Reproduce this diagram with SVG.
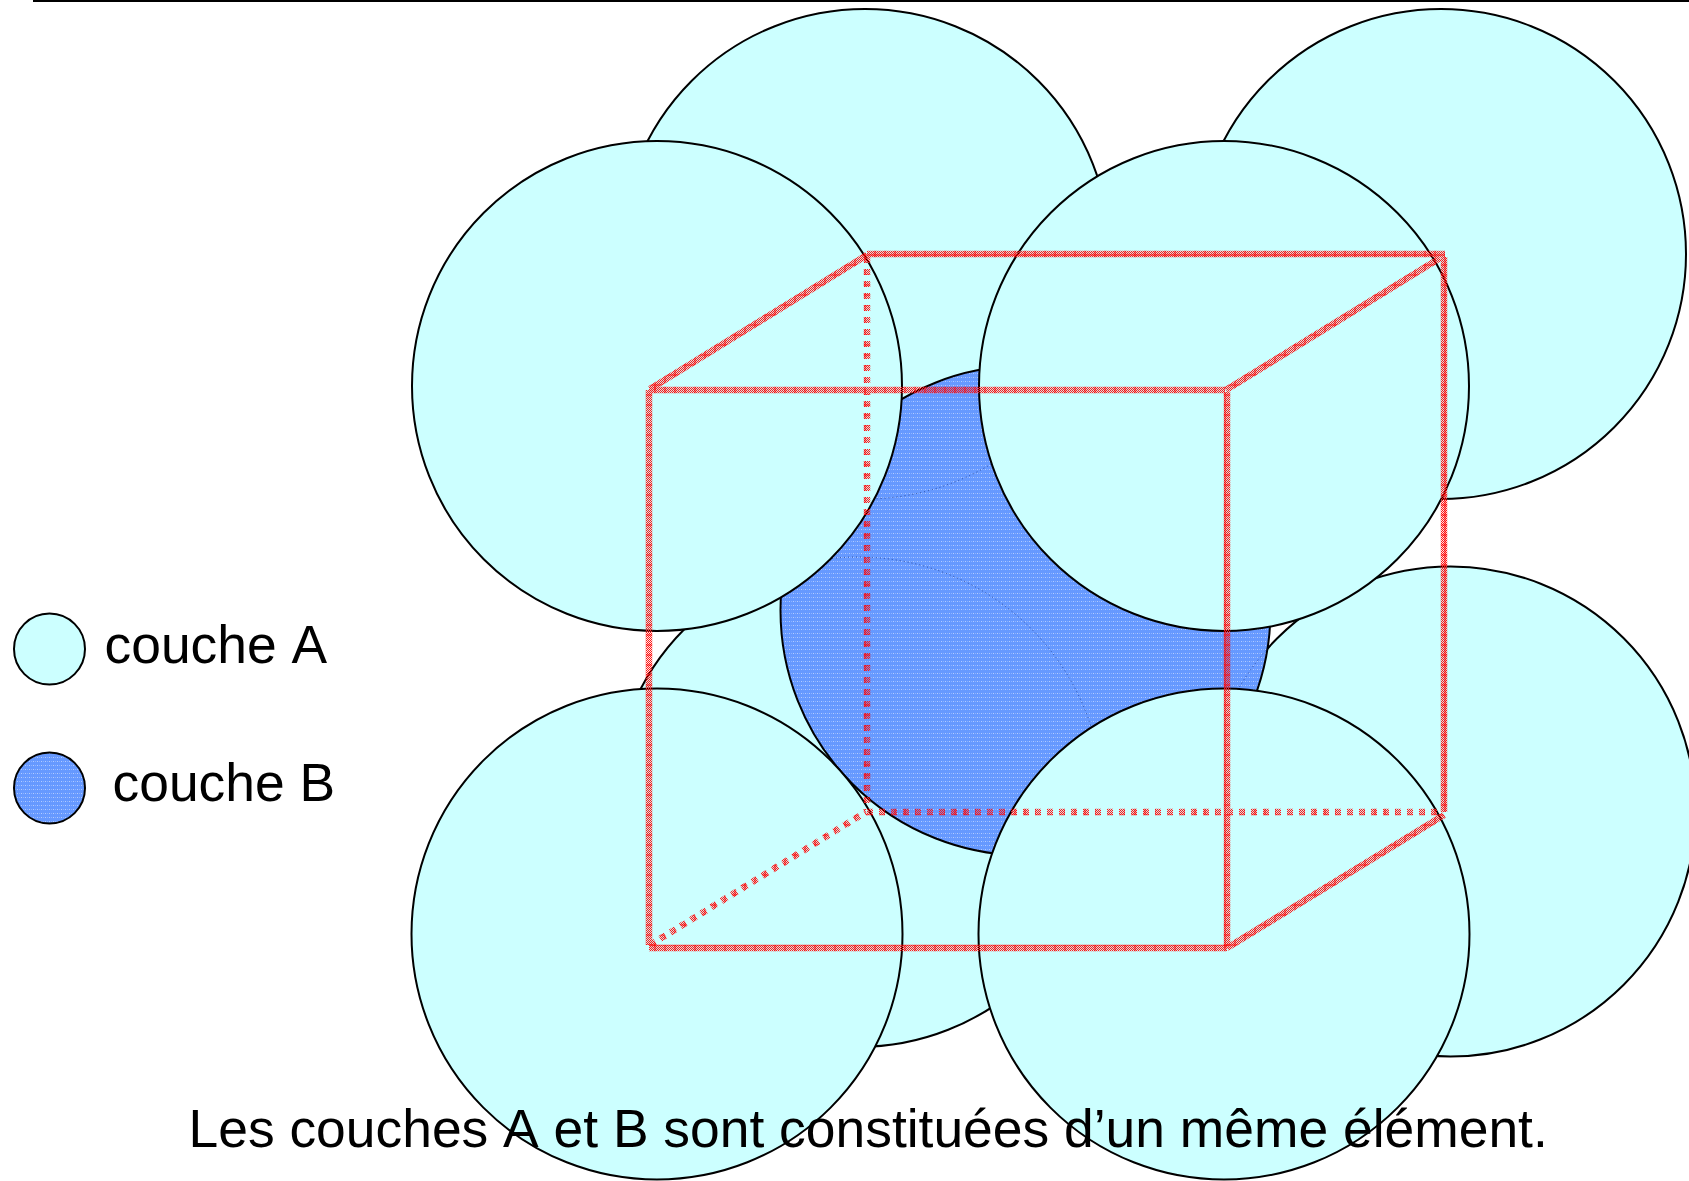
<svg xmlns="http://www.w3.org/2000/svg" width="1689" height="1181" viewBox="0 0 1689 1181">
  <style>
    .a { fill: #ccffff; stroke: #000; stroke-width: 2; }
    .b { fill: url(#stipple); stroke: #000; stroke-width: 2; }
    .ghost { fill: none; stroke: #1a3a8c; stroke-width: 1; stroke-dasharray: 1 3; opacity: .8; }
    .e { fill: none; stroke: url(#red); stroke-width: 6.5; stroke-linecap: butt; }
    .d { stroke-dasharray: 6 6; }
    text { font-family: "Liberation Sans", Arial, sans-serif; font-size: 53.4px; font-kerning: none; fill: #000; }
  </style>
  <defs>
    <pattern id="stipple" patternUnits="userSpaceOnUse" width="4" height="4">
      <rect width="4" height="4" fill="#6699ff"/>
      <rect x="1" y="1" width="1" height="1" fill="#b4ccff"/>
      <rect x="3" y="1" width="1" height="1" fill="#8fb4ff"/>
    </pattern>
    <pattern id="red" patternUnits="userSpaceOnUse" width="10" height="10">
      <rect width="10" height="10" fill="#ff0000" opacity=".1"/>
      <path d="M0 0h1v1H0zM2 0h1v1H2zM4 0h1v1H4zM6 0h1v1H6zM8 0h1v1H8zM1 1h1v1H1zM3 1h1v1H3zM5 1h1v1H5zM7 1h1v1H7zM9 1h1v1H9zM0 2h1v1H0zM2 2h1v1H2zM4 2h1v1H4zM6 2h1v1H6zM8 2h1v1H8zM1 3h1v1H1zM3 3h1v1H3zM5 3h1v1H5zM7 3h1v1H7zM9 3h1v1H9zM0 4h1v1H0zM2 4h1v1H2zM4 4h1v1H4zM6 4h1v1H6zM8 4h1v1H8zM1 5h1v1H1zM3 5h1v1H3zM5 5h1v1H5zM7 5h1v1H7zM9 5h1v1H9zM0 6h1v1H0zM2 6h1v1H2zM4 6h1v1H4zM6 6h1v1H6zM8 6h1v1H8zM1 7h1v1H1zM3 7h1v1H3zM5 7h1v1H5zM7 7h1v1H7zM9 7h1v1H9zM0 8h1v1H0zM2 8h1v1H2zM4 8h1v1H4zM6 8h1v1H6zM8 8h1v1H8zM1 9h1v1H1zM3 9h1v1H3zM5 9h1v1H5zM7 9h1v1H7zM9 9h1v1H9z" fill="#ff1a1a"/>
      <path d="M5 0v10M0 5h10" stroke="#ff0000" stroke-width="1" fill="none" opacity=".8"/>
    </pattern>
    <clipPath id="inB"><circle cx="1025.5" cy="610.5" r="245"/></clipPath>
  </defs>

  <path id="frame" d="M34 -10V1H1700" fill="none" stroke="#000" stroke-width="2"/>

  <g id="sphere-back-top-left"><circle class="a" cx="865" cy="254" r="245"/></g>
  <g id="sphere-back-top-right"><circle class="a" cx="1441" cy="254" r="245"/></g>
  <g id="sphere-back-bottom-left"><circle class="a" cx="858" cy="802" r="245"/></g>
  <g id="sphere-back-bottom-right"><circle class="a" cx="1450.5" cy="811.5" r="245"/></g>

  <g id="sphere-B"><circle class="b" cx="1025.5" cy="610.5" r="245"/></g>
  <g id="sphere-B-ghosts" clip-path="url(#inB)">
    <circle class="ghost" cx="865" cy="254" r="245"/>
    <circle class="ghost" cx="858" cy="802" r="245"/>
    <circle class="ghost" cx="1450.5" cy="811.5" r="245"/>
  </g>

  <g id="sphere-front-top-left"><circle class="a" cx="657" cy="386" r="245"/></g>
  <g id="sphere-front-top-right"><circle class="a" cx="1224" cy="386" r="245"/></g>
  <g id="sphere-front-bottom-left"><circle class="a" cx="657" cy="934" r="245.5"/></g>
  <g id="sphere-front-bottom-right"><circle class="a" cx="1224" cy="934" r="245.5"/></g>

  <g id="connectors">
    <path class="e d" d="M867 257V810"/>
    <path class="e d" d="M867 812H1442"/>
    <path class="e d" d="M650 945L866 812"/>
    <path class="e" d="M867 254H1445"/>
    <path class="e" d="M1444 257V812"/>
    <path class="e" d="M649 390H1225"/>
    <path class="e" d="M649 390V945"/>
    <path class="e" d="M1227 392V948"/>
    <path class="e" d="M649 948H1227"/>
    <path class="e" d="M650 389L867 255"/>
    <path class="e" d="M1226 390L1440 258"/>
    <path class="e" d="M1227 948L1444 815"/>
  </g>

  <g id="legend-A">
    <circle class="a" cx="49.5" cy="649" r="35.5"/>
    <text x="104.500" y="663">couche A</text>
  </g>
  <g id="legend-B">
    <circle class="b" cx="49.5" cy="788" r="35.5"/>
    <text x="112.500" y="801">couche B</text>
  </g>
  <text id="caption" x="188.500" y="1147">Les couches A et B sont constituées d’un même élément.</text>
</svg>
